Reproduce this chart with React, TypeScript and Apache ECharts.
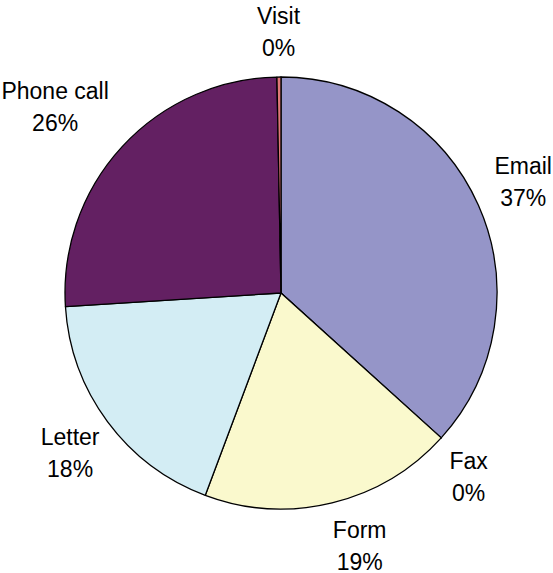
import React, { useEffect, useRef } from "react";
import * as echarts from "echarts";

const categories = ["Email", "Fax", "Form", "Letter", "Phone call", "Visit"];
const values = [367, 0, 190, 183, 257, 3];
const colors = ["#9595C8", "#993366", "#FAF9CD", "#D3EDF4", "#632062", "#E07878"];

// small label nudges (padding) to mimic the reference's label placement
const labelPadding: Record<string, number[]> = {
  Email: [0, 0, 6, 0],
  Fax: [12, 18, 0, 0],
  Form: [0, 0, 8, 32],
  Letter: [4, 0, 0, 4],
  "Phone call": [0, 62, 12, 0],
  Visit: [8, 0, 0, 0],
};

export default function App() {
  const ref = useRef<HTMLDivElement>(null);
  useEffect(() => {
    if (!ref.current) return;
    const chart = echarts.init(ref.current, undefined, { renderer: "svg" });
    const font = "'Liberation Sans', Arial, sans-serif";
    chart.setOption({
      animation: false,
      backgroundColor: "#ffffff",
      series: [
        {
          type: "pie",
          center: [281, 293],
          radius: 216,
          startAngle: 90,
          clockwise: true,
          silent: true,
          label: { show: false },
          labelLine: { show: false },
          itemStyle: { borderColor: "#000000", borderWidth: 1.3 },
          data: categories.map((name, i) => ({
            name,
            value: values[i],
            itemStyle: { color: colors[i] },
          })),
        },
        {
          type: "pie",
          center: [281, 293],
          radius: [250, 274],
          startAngle: 90,
          clockwise: true,
          silent: true,
          percentPrecision: 0,
          avoidLabelOverlap: false,
          itemStyle: { color: "rgba(0,0,0,0)", borderWidth: 0 },
          labelLine: { show: false },
          label: {
            show: true,
            position: "inside",
            formatter: "{t|{b}}\n{t|{d}%}",
            color: "#000000",
            fontSize: 23,
            lineHeight: 32,
            fontFamily: font,
            align: "center",
            rich: {
              t: {
                color: "#000000",
                fontSize: 23,
                lineHeight: 32,
                fontFamily: font,
                align: "center",
              },
            },
          },
          data: categories.map((name, i) => ({
            name,
            value: values[i],
            label: labelPadding[name] ? { padding: labelPadding[name] } : {},
          })),
        },
      ],
    });
    return () => chart.dispose();
  }, []);
  return (
    <div
      ref={ref}
      style={{ position: "absolute", left: 0, top: 0, width: 553, height: 573 }}
    />
  );
}
